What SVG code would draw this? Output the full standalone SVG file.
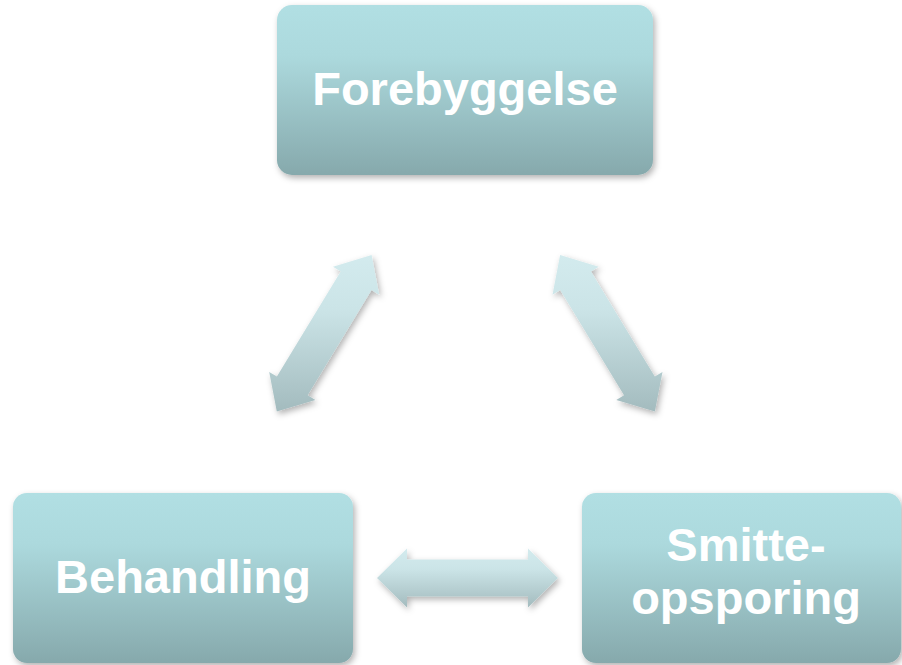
<svg xmlns="http://www.w3.org/2000/svg" width="902" height="665" viewBox="0 0 902 665">
<defs>
<linearGradient id="boxGrad" x1="0" y1="0" x2="0" y2="1">
<stop offset="0" stop-color="#b1dfe3"/>
<stop offset="0.3" stop-color="#acd9dd"/>
<stop offset="1" stop-color="#86a9ac"/>
</linearGradient>
<linearGradient id="arrowGrad" x1="0" y1="0" x2="0" y2="1">
<stop offset="0" stop-color="#d3ebee"/>
<stop offset="0.35" stop-color="#cbe4e7"/>
<stop offset="1" stop-color="#a3bbbe"/>
</linearGradient>
<filter id="shadow" x="-10%" y="-10%" width="125%" height="130%">
<feDropShadow dx="2" dy="3" stdDeviation="3" flood-color="#000" flood-opacity="0.3"/>
</filter>
</defs>
<style>
.box{fill:url(#boxGrad);filter:url(#shadow);}
.arrow{fill:url(#arrowGrad);filter:url(#shadow);}
.label{font-family:"Liberation Sans",Arial,sans-serif;font-weight:bold;font-size:47px;fill:#ffffff;text-anchor:middle;}
</style>
<g id="connectors">
<polygon class="arrow" points="276.8,411.5 269.2,371.9 276.9,376.6 340.7,271.4 333.0,266.7 371.6,255.1 379.2,294.7 371.5,290.1 307.7,395.2 315.4,399.9"/>
<polygon class="arrow" points="654.9,411.5 662.5,371.9 654.8,376.6 591.0,271.4 598.7,266.7 560.1,255.1 552.5,294.7 560.2,290.1 624.0,395.2 616.3,399.9"/>
<polygon class="arrow" points="377,578 407,548.5 407,559.5 528,559.5 528,548.5 558,578 528,607.5 528,596.5 407,596.5 407,607.5"/>
</g>
<g id="node-forebyggelse">
<rect class="box" x="277" y="5" width="376" height="170" rx="15" ry="15"/>
<text class="label" x="465" y="105">Forebyggelse</text>
</g>
<g id="node-behandling">
<rect class="box" x="13" y="493" width="340" height="170" rx="14" ry="14"/>
<text class="label" x="183" y="593">Behandling</text>
</g>
<g id="node-smitteopsporing">
<rect class="box" x="582" y="493" width="319" height="170" rx="14" ry="14"/>
<text class="label" x="746" y="561">Smitte-</text>
<text class="label" x="746" y="614">opsporing</text>
</g>
</svg>
